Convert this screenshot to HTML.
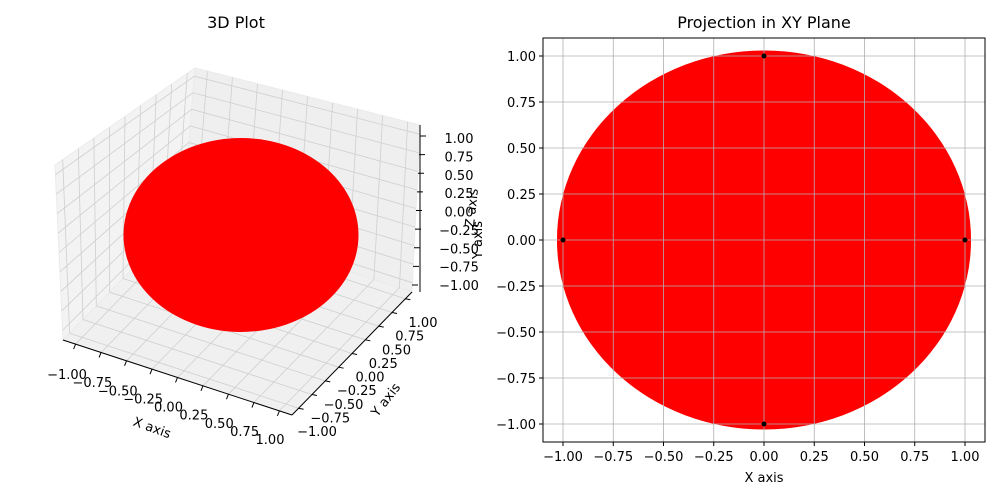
<!DOCTYPE html>
<html><head><meta charset="utf-8"><style>
body{margin:0;background:#fff}
svg{display:block;font-family:"DejaVu Sans","Liberation Sans",sans-serif}
</style></head><body>
<svg id="fig" width="1000" height="500" viewBox="0 0 1000 500"></svg>
<script>
const xTicks=[-1,-0.75,-0.5,-0.25,0,0.25,0.5,0.75,1];
const yTicks=[-1,-0.75,-0.5,-0.25,0,0.25,0.5,0.75,1];
const xLabels=["−1.00","−0.75","−0.50","−0.25","0.00","0.25","0.50","0.75","1.00"];
const yLabels=["−1.00","−0.75","−0.50","−0.25","0.00","0.25","0.50","0.75","1.00"];
const diskRadius=[1.03];
const pointsX=[1,0,-1,0];
const pointsY=[0,1,0,-1];

const svg=document.getElementById('fig');
const NS='http://www.w3.org/2000/svg';
function mk(tag,attrs,parent){const e=document.createElementNS(NS,tag);for(const k in attrs)e.setAttribute(k,attrs[k]);(parent||svg).appendChild(e);return e;}
function txt(s,attrs,parent){const e=mk('text',attrs,parent);e.textContent=s;return e;}
const FS=13;

// ---------- 3D panel ----------
const g3=mk('g',{});


const T=[195,68],B=[183,217],L=[55,165],LB=[63,340],R=[420,125],RB=[412,292],F=[292,415];
function lerp(a,b,t){return [a[0]+(b[0]-a[0])*t,a[1]+(b[1]-a[1])*t];}
function poly(pts,fill,name){const p=mk('polygon',{points:pts.map(q=>q.join(',')).join(' '),fill:fill,stroke:'#ebebeb','stroke-width':1},g3);}
poly([T,L,LB,B],'#f3f3f3','left-pane');
poly([T,R,RB,B],'#efefef','right-pane');
poly([B,LB,F,RB],'#f0f0f0','floor-pane');
const fr=xTicks.map(v=>0.055+(v+1)/2*0.89);
const GC='#cfcfcf';
fr.forEach(t=>{
  let a=lerp(LB,F,t),b=lerp(B,RB,t);
  mk('line',{x1:a[0],y1:a[1],x2:b[0],y2:b[1],stroke:GC,'stroke-width':0.8},g3);
  let top=lerp(T,R,t);
  mk('line',{x1:b[0],y1:b[1],x2:top[0],y2:top[1],stroke:GC,'stroke-width':0.8},g3);
  let d=lerp(F,RB,t),e=lerp(LB,B,t);
  mk('line',{x1:d[0],y1:d[1],x2:e[0],y2:e[1],stroke:GC,'stroke-width':0.8},g3);
  let f=lerp(L,T,t);
  mk('line',{x1:e[0],y1:e[1],x2:f[0],y2:f[1],stroke:GC,'stroke-width':0.8},g3);
  let zl=lerp(LB,L,t),zb=lerp(B,T,t),zr=lerp(RB,R,t);
  mk('polyline',{points:[zl,zb,zr].map(q=>q.join(',')).join(' '),fill:'none',stroke:GC,'stroke-width':0.8},g3);
});
const d3=mk('ellipse',{cx:241,cy:235,rx:117.5*diskRadius[0]/1.03,ry:97*diskRadius[0]/1.03,fill:'#ff0000'},g3);

mk('line',{x1:LB[0],y1:LB[1],x2:F[0],y2:F[1],stroke:'#000','stroke-width':1},g3);
mk('line',{x1:F[0],y1:F[1],x2:RB[0],y2:RB[1],stroke:'#000','stroke-width':1},g3);
mk('line',{x1:RB[0]+8,y1:RB[1],x2:R[0],y2:R[1],stroke:'#000','stroke-width':1},g3);
xLabels.forEach((s,i)=>{const p=lerp([67,379],[270,444],i/8);const t=txt(s,{x:p[0],y:p[1],'font-size':FS,'text-anchor':'middle'},g3);
  const q=lerp(LB,F,fr[i]);mk('line',{x1:q[0],y1:q[1],x2:q[0]-2,y2:q[1]+5,stroke:'#000'},g3);});
yLabels.forEach((s,i)=>{const p=lerp([317,436],[423,327],i/8);const t=txt(s,{x:p[0],y:p[1],'font-size':FS,'text-anchor':'middle'},g3);
  const q=lerp(F,RB,fr[i]);mk('line',{x1:q[0],y1:q[1],x2:q[0]+5,y2:q[1]+1,stroke:'#000'},g3);});
yLabels.forEach((s,i)=>{const p=lerp([459,290],[459,143],i/8);const t=txt(s,{x:p[0],y:p[1],'font-size':FS,'text-anchor':'middle'},g3);
  const q=lerp([412,285],[420,136],i/8);mk('line',{x1:q[0],y1:q[1],x2:q[0]+6,y2:q[1],stroke:'#000'},g3);});
let t1=txt('X axis',{x:152,y:432,'font-size':FS,'text-anchor':'middle',transform:'rotate(20 152 428)'},g3);
let t2=txt('Y axis',{x:386,y:404,'font-size':FS,'text-anchor':'middle',transform:'rotate(-52 386 400)'},g3);
let t3=txt('Z axis',{x:472,y:212,'font-size':FS,'text-anchor':'middle',transform:'rotate(-84 472 208)'},g3);
let t4=txt('3D Plot',{x:236,y:28,'font-size':16,'text-anchor':'middle'},g3);

// ---------- 2D panel ----------
const g2=mk('g',{});


const X0=543,X1=985,Y0=38,Y1=442;
const sx=v=>764+v*201, sy=v=>240-v*184;
const disk=mk('ellipse',{cx:sx(0),cy:sy(0),rx:diskRadius[0]*201,ry:diskRadius[0]*184,fill:'#ff0000'},g2);

xTicks.forEach((v,i)=>{
  const gl=mk('line',{x1:sx(v),y1:Y0,x2:sx(v),y2:Y1,stroke:'#b0b0b0','stroke-width':0.8},g2);
  
  mk('line',{x1:sx(v),y1:Y1,x2:sx(v),y2:Y1+4,stroke:'#000'},g2);
  const t=txt(xLabels[i],{x:sx(v),y:Y1+19,'font-size':FS,'text-anchor':'middle'},g2);
  
});
yTicks.forEach((v,i)=>{
  const gl=mk('line',{x1:X0,y1:sy(v),x2:X1,y2:sy(v),stroke:'#b0b0b0','stroke-width':0.8},g2);
  
  mk('line',{x1:X0-4,y1:sy(v),x2:X0,y2:sy(v),stroke:'#000'},g2);
  const t=txt(yLabels[i],{x:X0-7,y:sy(v)+5,'font-size':FS,'text-anchor':'end'},g2);
  
});
pointsX.forEach((v,i)=>{
  const c=mk('circle',{cx:sx(v),cy:sy(pointsY[i]),r:2.5,fill:'#000'},g2);
  
});
const fr2=mk('rect',{x:X0,y:Y0,width:X1-X0,height:Y1-Y0,fill:'none',stroke:'#000','stroke-width':1},g2);

let a1=txt('Projection in XY Plane',{x:764,y:28,'font-size':16,'text-anchor':'middle'},g2);
let a2=txt('X axis',{x:764,y:482,'font-size':FS,'text-anchor':'middle'},g2);
let a3=txt('Y axis',{x:482,y:240,'font-size':FS,'text-anchor':'middle',transform:'rotate(-90 482 240)'},g2);
</script>
</body></html>
